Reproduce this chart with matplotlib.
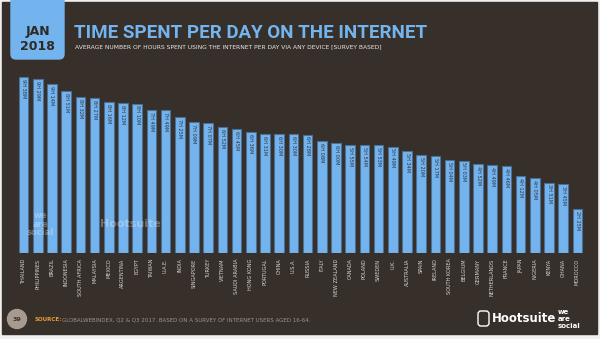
import matplotlib
matplotlib.use("Agg")
from matplotlib import pyplot as plt
from matplotlib.patches import Rectangle, FancyBboxPatch, Circle

# Data
countries = ["THAILAND", "PHILIPPINES", "BRAZIL", "INDONESIA", "SOUTH AFRICA",
             "MALAYSIA", "MEXICO", "ARGENTINA", "EGYPT", "TAIWAN", "U.A.E.",
             "INDIA", "SINGAPORE", "TURKEY", "VIETNAM", "SAUDI ARABIA",
             "HONG KONG", "PORTUGAL", "CHINA", "U.S.A.", "RUSSIA", "ITALY",
             "NEW ZEALAND", "CANADA", "POLAND", "SWEDEN", "U.K.", "AUSTRALIA",
             "SPAIN", "IRELAND", "SOUTH KOREA", "BELGIUM", "GERMANY",
             "NETHERLANDS", "FRANCE", "JAPAN", "NIGERIA", "KENYA", "GHANA",
             "MOROCCO"]
hours = [9, 9, 9, 8, 8, 8, 8, 8, 8, 7, 7, 7, 7, 7, 6, 6, 6, 6, 6, 6, 6, 6,
         6, 5, 5, 5, 5, 5, 5, 5, 5, 5, 4, 4, 4, 4, 4, 3, 3, 2]
minutes = [38, 29, 14, 51, 32, 27, 16, 12, 10, 49, 49, 25, 9, 7, 52, 45, 36,
           31, 30, 30, 28, 8, 0, 55, 54, 53, 49, 34, 20, 17, 4, 3, 52, 49, 46,
           12, 5, 51, 45, 25]

total = [h * 60 + m for h, m in zip(hours, minutes)]
labels = ["{}H {:02d}M".format(h, m) for h, m in zip(hours, minutes)]

BG = "#372f2a"
BLUE = "#74b4ee"

fig = plt.figure(figsize=(6, 3.39), dpi=100, facecolor="#f0f0f0")

# background layer in pixel coords
bg = fig.add_axes([0, 0, 1, 1], zorder=0)
bg.set_xlim(0, 600)
bg.set_ylim(339, 0)
bg.axis("off")
bg.add_patch(Rectangle((2, 2), 595, 332, color=BG))
bg.add_patch(FancyBboxPatch((11, -10), 53, 69,
                            boxstyle="round,pad=0,rounding_size=5",
                            color=BLUE))
bg.text(37.5, 32, "JAN", ha="center", va="center", fontsize=9,
        fontweight="bold", color="#2e2925", family="DejaVu Sans")
bg.text(37.5, 46, "2018", ha="center", va="center", fontsize=9,
        fontweight="bold", color="#2e2925", family="DejaVu Sans")
bg.text(74, 33, "TIME SPENT PER DAY ON THE INTERNET", ha="left",
        va="center", fontsize=13.5, fontweight="bold", color=BLUE,
        family="Roboto")
bg.text(75, 47, "AVERAGE NUMBER OF HOURS SPENT USING THE INTERNET PER DAY "
        "VIA ANY DEVICE [SURVEY BASED]", ha="left", va="center",
        fontsize=4.3, color="#e8e8e8")

# footer
bg.add_patch(Circle((17, 319), 9.5, color="#a79a8e"))
bg.text(17, 319.5, "39", ha="center", va="center", fontsize=4.5,
        fontweight="bold", color="#3a322d")
bg.text(35, 319.5, "SOURCE:", ha="left", va="center", fontsize=4,
        fontweight="bold", color="#e8a02e")
bg.text(62, 319.5, "GLOBALWEBINDEX, Q2 & Q3 2017. BASED ON A SURVEY OF "
        "INTERNET USERS AGED 16-64.", ha="left", va="center", fontsize=4,
        color="#9c948e")
bg.add_patch(FancyBboxPatch((478, 311), 11, 15,
                            boxstyle="round,pad=0,rounding_size=3",
                            fill=False, edgecolor="white", linewidth=1))
bg.text(492, 319, "Hootsuite", ha="left", va="center", fontsize=8.5,
        fontweight="bold", color="white")
for k, w in enumerate(["we", "are", "social"]):
    bg.text(558, 311.5 + 7.5 * k, w, ha="left", va="center", fontsize=5,
            fontweight="bold", color="white")

# chart
ax = fig.add_axes([14 / 600, 1 - 253 / 339, 573 / 600, 183 / 339], zorder=1)
ax.set_facecolor("none")
x = list(range(len(countries)))
ax.bar(x, total, width=0.68, color=BLUE, edgecolor="#4c6f96", linewidth=0.8)
for i, v in enumerate(total):
    ax.text(i, v - 6, labels[i], rotation=-90, ha="center", va="top",
            fontsize=3.6, color="#2b3442")
ax.set_xlim(-0.67, 39.67)
ax.set_ylim(0, 600)
ax.set_xticks(x, labels=countries, rotation=90, fontsize=3.6,
              color="#d6d6d6")
ax.tick_params(axis="x", length=0, pad=4)
ax.set_yticks([])
for s in ax.spines.values():
    s.set_visible(False)

# faint watermarks over the bars
ax.text(1.2, 95, "we\nare\nsocial", fontsize=6, fontweight="bold",
        color="white", alpha=0.3, ha="center", va="center", linespacing=0.9)
ax.text(7.5, 95, "Hootsuite", fontsize=8, fontweight="bold", color="white",
        alpha=0.3, ha="center", va="center")

fig.savefig("out.png", dpi=100, facecolor=fig.get_facecolor())
